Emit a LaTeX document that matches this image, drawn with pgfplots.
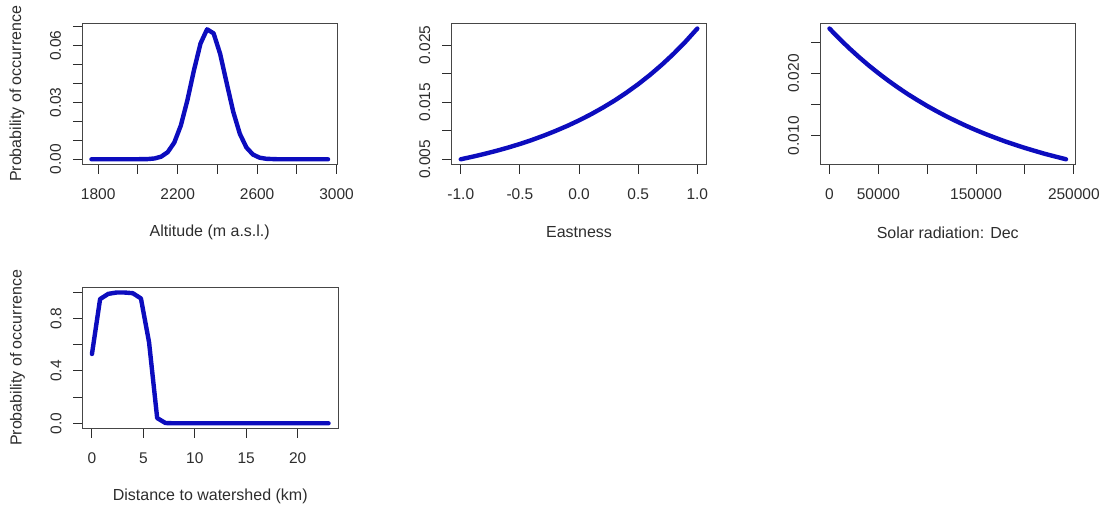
\documentclass[border=0pt]{standalone}
\usepackage{pgfplots}
\pgfplotsset{compat=1.18}
\usepackage{fontspec}
\setmainfont{Liberation Sans}
\definecolor{curve}{RGB}{12,12,190}
\definecolor{frame}{RGB}{70,70,70}
\definecolor{txt}{RGB}{45,45,45}

\pgfplotsset{
  rplot/.style={
    scale only axis,
    width=255.5pt, height=141.2pt,
    anchor=south west,
    axis line style={draw=frame, line width=1pt},
    tick pos=left,
    tick align=outside,
    major tick length=9pt,
    every tick/.style={draw=txt, line width=1pt},
    scaled ticks=false,
    no markers,
    tick label style={font=\fontsize{15.5}{18}\selectfont, text=txt},
    xticklabel style={anchor=center, yshift=-20.5pt},
    yticklabel style={anchor=center, xshift=-17.5pt, rotate=90},
    every axis x label/.style={at={(axis description cs:0.5,0)}, anchor=center, yshift=-68pt,
      font=\fontsize{16}{19}\selectfont, text=txt},
    every axis y label/.style={at={(axis description cs:0,0.5)}, anchor=center, xshift=-65pt, rotate=90,
      font=\fontsize{16}{19}\selectfont, text=txt},
  },
  rline/.style={draw=curve, line width=4.4pt, line join=round, line cap=round, mark=none},
}

\begin{document}
\begin{tikzpicture}
\useasboundingbox (0,0) rectangle (1104pt,507pt);

% Panel 1: Altitude
\begin{axis}[rplot, at={(82pt,342.5pt)},
  xmin=1718.4, xmax=3004.6, ymin=-0.00276, ymax=0.07186,
  xtick={1800,2000,2200,2400,2600,2800,3000},
  xticklabels={1800,,2200,,2600,,3000},
  ytick={0,0.01,0.02,0.03,0.04,0.05,0.06,0.07},
  yticklabels={0.00,,,0.03,,,0.06,},
  xlabel={Altitude (m a.s.l.)},
  ylabel={Probability of occurrence}]
\addplot[rline] coordinates {
(1766,0) (1800,0) (1850,0) (1900,0) (1950,0.00001) (2000,0.00003) (2050,0.00012)
(2084,0.00044) (2117,0.00139) (2150,0.00377) (2183,0.00884) (2216,0.01788)
(2249,0.03122) (2282,0.04706) (2315,0.06119) (2348,0.06869) (2381,0.06654)
(2414,0.05564) (2447,0.04016) (2480,0.02501) (2513,0.01345) (2546,0.00624)
(2579,0.00250) (2612,0.00086) (2645,0.00026) (2700,0.00003) (2750,0)
(2800,0) (2850,0) (2900,0) (2957,0)
};
\end{axis}

% Panel 2: Eastness
\begin{axis}[rplot, at={(451.3pt,342.5pt)},
  xmin=-1.08, xmax=1.08, ymin=0.004084, ymax=0.028816,
  xtick={-1,-0.5,0,0.5,1},
  xticklabels={-1.0,-0.5,0.0,0.5,1.0},
  ytick={0.005,0.01,0.015,0.02,0.025},
  yticklabels={0.005,,0.015,,0.025},
  xlabel={Eastness}]
\addplot[rline] coordinates {
(-1,0.00500) (-0.9,0.00545) (-0.8,0.00594) (-0.7,0.00647) (-0.6,0.00705)
(-0.5,0.00768) (-0.4,0.00837) (-0.3,0.00913) (-0.2,0.00995) (-0.1,0.01084)
(0,0.01181) (0.1,0.01287) (0.2,0.01403) (0.3,0.01528) (0.4,0.01666)
(0.5,0.01815) (0.6,0.01978) (0.7,0.02156) (0.8,0.02349) (0.9,0.02560) (1,0.02790)
};
\end{axis}

% Panel 3: Solar radiation
\begin{axis}[rplot, at={(820pt,342.5pt)},
  xmin=-9680, xmax=251680, ymin=0.005358, ymax=0.028092,
  xtick={0,50000,100000,150000,200000,250000},
  xticklabels={0,50000,,150000,,250000},
  ytick={0.01,0.015,0.02,0.025},
  yticklabels={0.010,,0.020,},
  xlabel={Solar radiation: Dec}]
\addplot[rline] coordinates {
(0,0.02725) (10000,0.02563) (20000,0.02411) (30000,0.02268) (40000,0.02133)
(50000,0.02007) (60000,0.01888) (70000,0.01776) (80000,0.01670) (90000,0.01572)
(100000,0.01478) (110000,0.01391) (120000,0.01308) (130000,0.01231) (140000,0.01157)
(150000,0.01089) (160000,0.01024) (170000,0.00964) (180000,0.00906) (190000,0.00853)
(200000,0.00802) (210000,0.00755) (220000,0.00709) (230000,0.00668) (240000,0.00628)
(242000,0.00620)
};
\end{axis}

% Panel 4: Distance to watershed
\begin{axis}[rplot, at={(82.5pt,78.5pt)},
  xmin=-0.92, xmax=23.92, ymin=-0.04, ymax=1.04,
  xtick={0,5,10,15,20},
  xticklabels={0,5,10,15,20},
  ytick={0,0.2,0.4,0.6,0.8,1},
  yticklabels={0.0,,0.4,,0.8,},
  xlabel={Distance to watershed (km)},
  ylabel={Probability of occurrence}]
\addplot[rline] coordinates {
(0,0.53) (0.79,0.95) (1.59,0.99) (2.38,1.0) (3.17,1.0) (3.97,0.995)
(4.76,0.955) (5.55,0.62) (6.34,0.04) (7.14,0.002) (7.93,0) (10,0) (15,0) (20,0) (23,0)
};
\end{axis}
\end{tikzpicture}
\end{document}
